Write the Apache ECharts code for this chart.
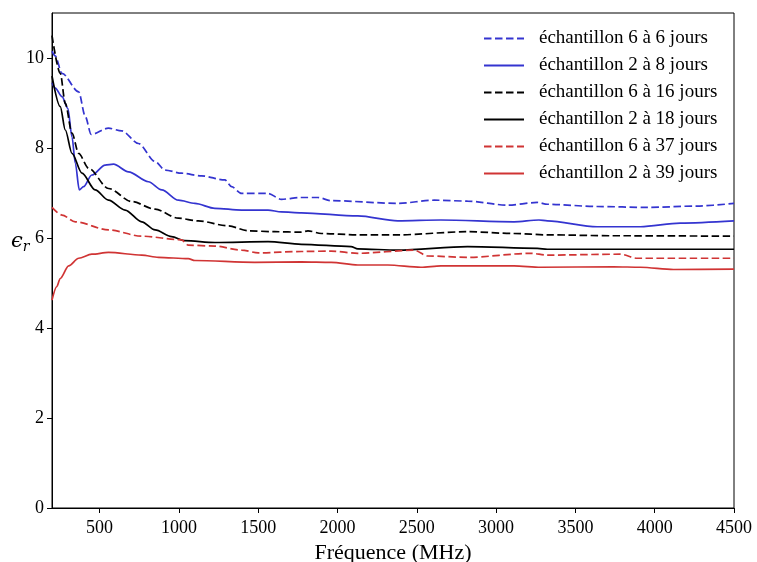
<!DOCTYPE html>
<html>
<head>
<meta charset="utf-8">
<script src="https://cdn.jsdelivr.net/npm/echarts@6/dist/echarts.min.js"></script>
<style>html,body{margin:0;padding:0;background:#fff}#c{width:757px;height:562px}</style>
</head>
<body>
<div id="c"></div>
<script>
const seriesNames = ['échantillon 6 à 6 jours','échantillon 2 à 8 jours','échantillon 6 à 16 jours','échantillon 2 à 18 jours','échantillon 6 à 37 jours','échantillon 2 à 39 jours'];
const xTicks = [500,1000,1500,2000,2500,3000,3500,4000,4500];
const yTicks = [0,2,4,6,8,10];

const f66 = [200,220,263,368,410,447,556,640,745,850,912,1017,1143,1290,1332,1395,1562,1646,1772,1877,1960,2380,2610,2820,3071,3260,3323,3637,3951,4266,4500];
const v66 = [10.15,10.05,9.66,9.25,8.70,8.30,8.44,8.38,8.10,7.70,7.51,7.44,7.38,7.29,7.14,6.99,6.99,6.86,6.90,6.90,6.83,6.77,6.84,6.82,6.73,6.79,6.75,6.70,6.68,6.71,6.77];

const f28 = [200,221,263,300,326,347,372,399,451,535,588,682,808,892,997,1101,1227,1395,1562,1646,1772,2128,2380,2652,3113,3270,3323,3637,3910,4161,4500];
const v28 = [9.45,9.33,9.14,8.88,8.25,7.66,7.07,7.14,7.40,7.62,7.64,7.47,7.25,7.07,6.84,6.77,6.66,6.62,6.62,6.58,6.56,6.49,6.38,6.40,6.36,6.40,6.38,6.25,6.25,6.33,6.38];

const f616 = [200,252,284,326,368,431,556,703,850,997,1122,1311,1437,1604,1772,1814,1898,2128,2380,2820,3113,3323,3741,4500];
const v616 = [10.5,9.66,8.99,8.33,7.88,7.55,7.10,6.81,6.64,6.44,6.38,6.27,6.16,6.14,6.13,6.16,6.10,6.07,6.07,6.14,6.10,6.07,6.05,6.04];

const f218 = [200,252,284,326,389,472,556,661,766,850,954,1038,1227,1562,1772,2086,2128,2380,2820,3260,3323,4500];
const v218 = [9.6,8.92,8.40,7.88,7.44,7.07,6.84,6.62,6.36,6.18,6.03,5.94,5.90,5.92,5.86,5.81,5.76,5.73,5.81,5.77,5.75,5.75];

const f637 = [200,263,347,556,766,1017,1059,1227,1395,1500,1772,1960,2128,2484,2568,2820,3218,3323,3784,3889,4500];
const v637 = [6.68,6.51,6.36,6.18,6.04,5.96,5.84,5.82,5.73,5.67,5.70,5.71,5.66,5.73,5.60,5.57,5.66,5.62,5.64,5.55,5.55];

const f239 = [200,230,252,305,368,451,556,766,871,1059,1101,1478,1772,1960,2128,2317,2526,2652,3113,3281,3741,3910,4119,4500];
const v239 = [4.62,4.92,5.10,5.38,5.55,5.64,5.68,5.62,5.57,5.54,5.50,5.46,5.47,5.46,5.40,5.40,5.35,5.38,5.38,5.35,5.36,5.35,5.30,5.31];

const xs = [f66,f28,f616,f218,f637,f239];
const ys = [v66,v28,v616,v218,v637,v239];
const colors = ['#3434d0','#3434d0','#000000','#000000','#d03434','#d03434'];
const dashed = [true,false,true,false,true,false];

const FONT = '"Liberation Serif", "DejaVu Serif", serif';
const chart = echarts.init(document.getElementById('c'), null, {renderer:'canvas'});
chart.setOption({
  animation:false,
  backgroundColor:'#fff',
  grid:{left:52,right:23,top:13,bottom:54,show:true,borderColor:'#000',borderWidth:1,backgroundColor:'transparent',outerBoundsMode:'none',containLabel:false},
  legend:{
    orient:'vertical', left:483, top:29, padding:0, itemWidth:40, itemHeight:14, itemGap:8,
    data:seriesNames,
    itemStyle:{opacity:0},
    textStyle:{fontFamily:FONT,fontSize:19,color:'#000',lineHeight:19,padding:[0,0,0,10]}
  },
  xAxis:{
    type:'value', min:200, max:4500,
    name:'Fréquence (MHz)', nameLocation:'middle', nameGap:30,
    nameTextStyle:{fontFamily:FONT,fontSize:22,color:'#000'},
    axisLine:{show:true,onZero:false,lineStyle:{color:'#000',width:1}},
    axisTick:{show:true,inside:false,length:5,customValues:xTicks,lineStyle:{color:'#000'}},
    axisLabel:{customValues:xTicks,formatter:v=>String(v),fontFamily:FONT,fontSize:18,color:'#000',margin:11},
    splitLine:{show:false}
  },
  yAxis:{
    type:'value', min:0, max:11,
    axisLine:{show:true,onZero:false,lineStyle:{color:'#000',width:1}},
    axisTick:{show:true,inside:false,length:5,customValues:yTicks,lineStyle:{color:'#000'}},
    axisLabel:{customValues:yTicks,formatter:v=>String(v),fontFamily:FONT,fontSize:18,color:'#000',margin:8},
    splitLine:{show:false}
  },
  graphic:[{
    type:'text', left:11, top:231,
    style:{
      text:'{a|ϵ}{b|r}',
      rich:{
        a:{fontFamily:'"DejaVu Serif", serif',fontStyle:'italic',fontSize:21,fill:'#000'},
        b:{fontFamily:'"DejaVu Serif", serif',fontStyle:'italic',fontSize:14,fill:'#000',padding:[11,0,0,0]}
      }
    }
  }],
  series: seriesNames.map((n,i)=>({
    name:n, type:'line', showSymbol:false, symbol:'none',
    smooth:0.3, smoothMonotone:'x',
    data: xs[i].map((x,j)=>[x, ys[i][j]]),
    lineStyle:{color:colors[i], width:1.7, type: dashed[i] ? [7.5,3.5] : 'solid'},
    itemStyle:{color:colors[i]}
  }))
});
</script>
</body>
</html>
